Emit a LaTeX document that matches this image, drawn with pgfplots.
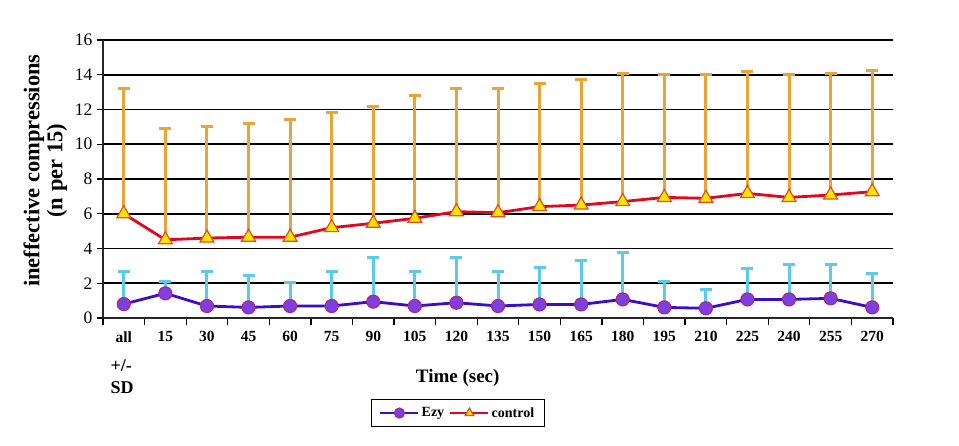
\documentclass[border=0pt]{standalone}
\usepackage{pgfplots}
\pgfplotsset{compat=1.18}
\usepackage{pgfplotstable}
\usepackage{fontspec}
\setmainfont{Liberation Serif}
\definecolor{ctlline}{HTML}{E3061E}
\definecolor{ctlfill}{HTML}{FFE600}
\definecolor{ctldraw}{HTML}{E0501A}
\definecolor{ctlerr}{HTML}{E8A535}
\definecolor{ezyline}{HTML}{3A0CCB}
\definecolor{ezyfill}{HTML}{7B3FE4}
\definecolor{ezydraw}{HTML}{B02A70}
\definecolor{ezyerr}{HTML}{5CCAEA}

\pgfplotstableread{
x y e
0 6.00 7.18
1 4.50 6.40
2 4.60 6.40
3 4.65 6.55
4 4.65 6.80
5 5.20 6.60
6 5.45 6.75
7 5.74 7.04
8 6.12 7.06
9 6.06 7.12
10 6.41 7.06
11 6.50 7.24
12 6.70 7.38
13 6.94 7.05
14 6.89 7.11
15 7.17 7.01
16 6.94 7.06
17 7.08 7.00
18 7.27 7.00
}\control

\pgfplotstableread{
x y e
0 0.80 1.86
1 1.42 0.68
2 0.69 1.97
3 0.61 1.86
4 0.69 1.36
5 0.69 1.97
6 0.94 2.55
7 0.69 1.97
8 0.88 2.61
9 0.69 1.97
10 0.78 2.14
11 0.78 2.52
12 1.07 2.69
13 0.61 1.48
14 0.56 1.09
15 1.07 1.75
16 1.07 2.03
17 1.13 1.97
18 0.61 1.96
}\ezy

\begin{document}
\begin{tikzpicture}
\path[use as bounding box] (-103pt,-128pt) rectangle (856pt,318pt);
\begin{axis}[
  at={(0,0)}, anchor=south west,
  scale only axis,
  width=790pt, height=278pt,
  xmin=-0.5, xmax=18.5,
  ymin=0, ymax=16,
  axis lines*=left,
  axis line style={line width=1.5pt, black!85},
  xtick={0,...,18},
  xticklabels={all,15,30,45,60,75,90,105,120,135,150,165,180,195,210,225,240,255,270},
  minor xtick={-0.5,0.5,...,18.5},
  major x tick style={draw=none},
  minor tick length=7pt,
  minor x tick style={line width=1.3pt, black},
  ytick={0,2,...,16},
  major tick length=6pt,
  y tick style={line width=1.3pt, black},
  tick align=outside,
  ymajorgrids,
  major grid style={line width=1.6pt, black},
  /pgf/number format/assume math mode=true,
  yticklabel style={font=\fontsize{17.5}{19}\selectfont, xshift=-1pt},
  xticklabel style={font=\bfseries\fontsize{15.5}{18}\selectfont, yshift=-4pt},
  ylabel={ineffective compressions\\(n per 15)},
  ylabel style={at={(axis description cs:-0.073,0.53)}, anchor=center, align=center, font=\bfseries\fontsize{22.5}{23}\selectfont},
  xlabel={Time (sec)},
  xlabel style={at={(axis description cs:0.449,-0.216)}, anchor=center, font=\bfseries\fontsize{19}{21}\selectfont},
  legend columns=-1,
  legend style={at={(axis description cs:0.449,-0.342)}, anchor=center, draw=black, line width=1pt,
    font=\bfseries\fontsize{14}{15}\selectfont, inner xsep=8pt, inner ysep=6pt,
    /tikz/every even column/.append style={column sep=3pt}},
  legend image code/.code={\draw[#1, line width=2.5pt] (0pt,0pt) -- (38pt,0pt); \path[#1, mark size=5pt] plot coordinates {(19pt,0pt)};},
  clip=false,
]
\addplot[ezyline, line width=2.8pt, mark=*, mark size=6.5pt,
  mark options={fill=ezyfill, draw=ezydraw, line width=1.2pt},
  error bars/.cd, y dir=plus, y explicit,
  error bar style={ezyerr, line width=3pt},
  error mark options={ezyerr, rotate=90, line width=3pt, mark size=6pt}]
  table[x=x, y=y, y error=e] {\ezy};
\addlegendentry{Ezy}
\addplot[ctlline, line width=2.8pt, mark=triangle*, mark size=8pt,
  mark options={fill=ctlfill, draw=ctldraw, line width=1.2pt},
  error bars/.cd, y dir=plus, y explicit,
  error bar style={ctlerr, line width=3pt},
  error mark options={ctlerr, rotate=90, line width=3pt, mark size=6pt}]
  table[x=x, y=y, y error=e] {\control};
\addlegendentry{control}
\end{axis}
\node[anchor=north west, align=left, font=\bfseries\fontsize{18}{22}\selectfont] at (4pt,-38pt) {+/-\\SD};
\end{tikzpicture}
\end{document}
